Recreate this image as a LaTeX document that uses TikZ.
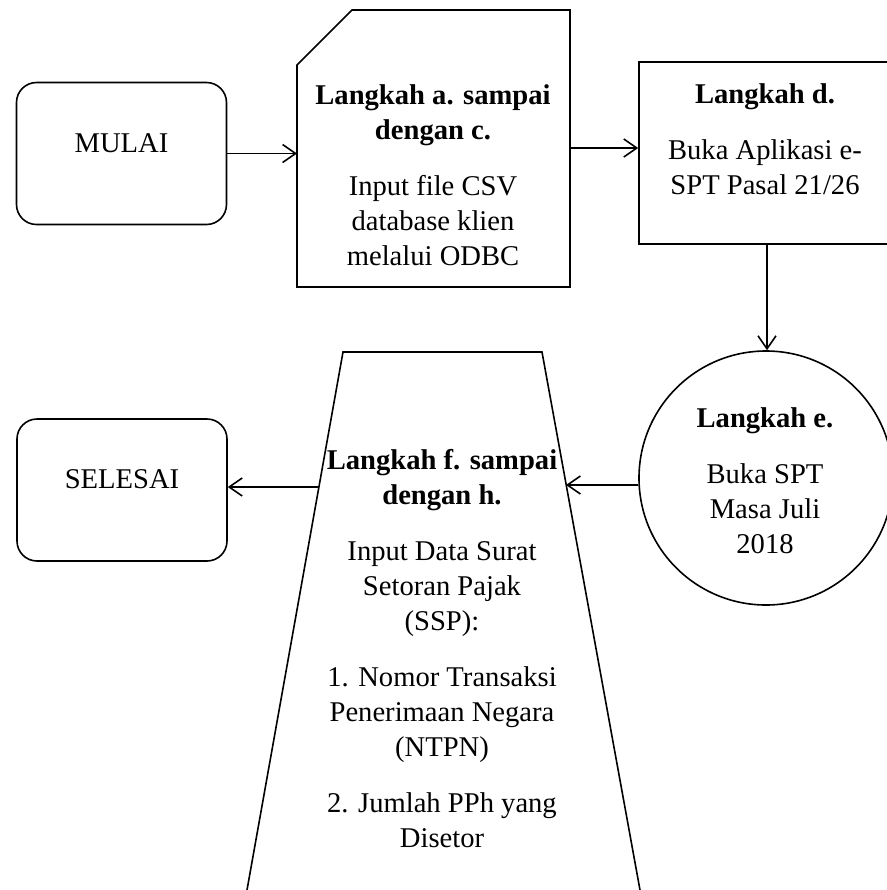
\documentclass[tikz,border=0pt]{standalone}
\usepackage{fontspec}
\setmainfont{Liberation Serif}
\usetikzlibrary{arrows.meta}

\tikzset{
  terminal/.style={draw, rounded corners=10pt, minimum width=105pt, minimum height=71pt},
  proses/.style={draw, minimum width=128pt, minimum height=91pt},
  bulat/.style={draw, circle, minimum size=127pt},
  teks/.style={align=center, anchor=base, inner sep=0pt},
  panah/.style={-{Straight Barb[length=6.5pt, width=9pt]}},
}

\begin{document}
\begin{tikzpicture}[x=0.5pt, y=-0.5pt, line width=0.8pt, font=\fontsize{14.3}{17.5}\selectfont]

  \clip (0,0) rectangle (887,890);

  % Mulai dan selesai
  \node[terminal] (mulai) at (121.5,153.5) {};
  \node[teks] (tmulai) at (121.5,152) {MULAI};
  \node[terminal] (selesai) at (122,490) {};
  \node[teks] (tselesai) at (122,488) {SELESAI};

  % Langkah a. sampai dengan c. (kartu)
  \coordinate (kartuW) at (297,154);
  \coordinate (kartuE) at (570,148);
  \draw (297,65) -- (352,10) -- (570,10) -- (570,287) -- (297,287) -- cycle;
  \node[teks] (tkartu) at (433,265) {\textbf{Langkah a. sampai}\\\textbf{dengan c.}\\[10.5pt]
    Input file CSV\\database klien\\melalui ODBC};

  % Langkah d.
  \node[proses] (langkahd) at (767,153) {};
  \node[teks] (tlangkahd) at (765,194) {\textbf{Langkah d.}\\[10.5pt]
    Buka Aplikasi e-\\SPT Pasal 21/26};

  % Langkah e.
  \node[bulat] (langkahe) at (766,478) {};
  \node[teks] (tlangkahe) at (765,553) {\textbf{Langkah e.}\\[10.5pt]
    Buka SPT\\Masa Juli\\2018};

  % Langkah f. sampai dengan h. (trapesium)
  \coordinate (trapW) at (319,487);
  \coordinate (trapE) at (566,485);
  \draw (247,890) -- (343,352) -- (542,352) -- (640,890);
  \node[teks] (tlangkahf) at (442,847) {\textbf{Langkah f. sampai}\\\textbf{dengan h.}\\[10.5pt]
    Input Data Surat\\Setoran Pajak\\(SSP):\\[10.5pt]
    1. Nomor Transaksi\\Penerimaan Negara\\(NTPN)\\[10.5pt]
    2. Jumlah PPh yang\\Disetor};

  % Panah
  \draw[panah] (mulai.east) -- (mulai.east -| kartuW);
  \draw[panah] (kartuE) -- (kartuE -| langkahd.west);
  \draw[panah] (langkahd.south) -- (langkahd.south |- langkahe.north);
  \draw[panah] (langkahe.west |- trapE) -- (trapE);
  \draw[panah] (trapW) -- (trapW -| selesai.east);

\end{tikzpicture}
\end{document}
